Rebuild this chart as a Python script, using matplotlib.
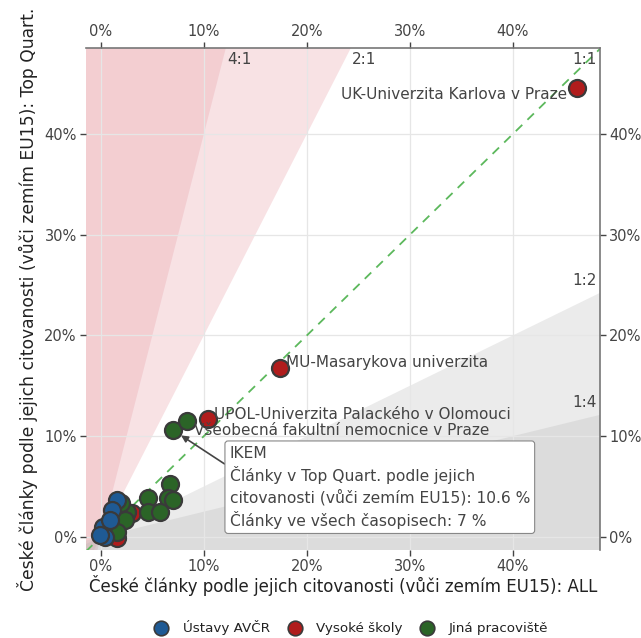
import matplotlib
matplotlib.use("Agg")
import matplotlib.pyplot as plt
import numpy as np
from matplotlib.ticker import FuncFormatter
from matplotlib.lines import Line2D

# share of Czech articles (% of EU15 comparison): ALL vs Top Quart.
avcr_all = [1.6, 1.1, 0.2, 0.4, -0.1, 0.9]
avcr_top = [3.7, 2.7, 1.0, 0.0, 0.2, 1.7]

vs_names = ["UK-Univerzita Karlova v Praze", "MU-Masarykova univerzita",
            "UPOL-Univerzita Palackého v Olomouci", "", ""]
vs_all = [46.2, 17.4, 10.4, 3.0, 1.6]
vs_top = [44.6, 16.8, 11.7, 2.4, -0.1]

jine_names = ["IKEM", "Všeobecná fakultní nemocnice v Praze"]
jine_all = [7.0, 8.4, 6.7, 4.6, 6.5, 7.0, 4.6, 5.7, 2.5, 2.3, 1.6, 2.0]
jine_top = [10.6, 11.5, 5.2, 3.9, 3.9, 3.7, 2.5, 2.5, 2.5, 1.7, 0.5, 3.4]

ticks = [0, 10, 20, 30, 40]

xmin, xmax = -1.45, 48.45
ymin, ymax = -1.3, 48.55

fig = plt.figure(figsize=(6.41, 6.38), dpi=100)
ax = fig.add_axes([0.134, 0.138, 0.802, 0.787])

xs = np.linspace(xmin, xmax, 200)
ax.fill_between(xs, 4 * xs, 200, color="#e8a0a8", alpha=0.3, lw=0, zorder=0)
ax.fill_between(xs, 2 * xs, 200, color="#e8a0a8", alpha=0.3, lw=0, zorder=0)
ax.fill_between(xs, -200, xs / 2, color="#b0b0b0", alpha=0.25, lw=0, zorder=0)
ax.fill_between(xs, -200, xs / 4, color="#b0b0b0", alpha=0.25, lw=0, zorder=0)

for t in ticks:
    ax.axvline(t, color="#e6e6e6", lw=0.9, zorder=0.5)
    ax.axhline(t, color="#e6e6e6", lw=0.9, zorder=0.5)

ax.plot(xs, xs, ls=(0, (5, 4)), color="#5cb85c", lw=1.3, zorder=1)

# ratio labels
rl = dict(fontsize=11, color="#444")
ax.text(ymax / 4 + 0.1, ymax - 0.4, "4:1", ha="left", va="top", **rl)
ax.text(ymax / 2 + 0.1, ymax - 0.4, "2:1", ha="left", va="top", **rl)
ax.text(xmax - 0.3, ymax - 0.4, "1:1", ha="right", va="top", **rl)
ax.text(xmax - 0.3, xmax / 2 + 0.5, "1:2", ha="right", va="bottom", **rl)
ax.text(xmax - 0.3, xmax / 4 + 0.5, "1:4", ha="right", va="bottom", **rl)

kw = dict(s=150, edgecolors="#3a3a3a", linewidths=1.6, zorder=3)
ax.scatter(vs_all, vs_top, color="#b01c1c", **kw)
ax.scatter(jine_all, jine_top, color="#2b6427", **kw)
ax.scatter(avcr_all, avcr_top, color="#1f5a94", **kw)

lab = dict(fontsize=11, color="#444", zorder=4)
ax.annotate(vs_names[0], (vs_all[0], vs_top[0]), xytext=(-7, -5), textcoords="offset points",
            ha="right", va="center", **lab)
ax.annotate(vs_names[1], (vs_all[1], vs_top[1]), xytext=(4, 4), textcoords="offset points",
            ha="left", va="center", **lab)
ax.annotate(vs_names[2], (vs_all[2], vs_top[2]), xytext=(4, 3), textcoords="offset points",
            ha="left", va="center", **lab)
ax.annotate(jine_names[1], (jine_all[1], jine_top[1]), xytext=(5, -7), textcoords="offset points",
            ha="left", va="center", **lab)

# hover box for IKEM
box_txt = ("IKEM\nČlánky v Top Quart. podle jejich\n"
           "citovanosti (vůči zemím EU15): 10.6 %\nČlánky ve všech časopisech: 7 %")
ax.annotate(box_txt, (jine_all[0], jine_top[0]), xytext=(12.5, 0.8), textcoords="data",
            ha="left", va="bottom", fontsize=11.2, color="#444", linespacing=1.36, zorder=5,
            bbox=dict(boxstyle="round,pad=0.3,rounding_size=0.2", fc="white", ec="#888", lw=0.8),
            arrowprops=dict(arrowstyle="-|>", color="#444", lw=1.2, shrinkA=0, shrinkB=7,
                            mutation_scale=10, relpos=(0, 0.74)))

ax.set_xlim(xmin, xmax)
ax.set_ylim(ymin, ymax)
ax.set_xticks(ticks)
ax.set_yticks(ticks)
pct = FuncFormatter(lambda v, p: f"{v:.0f}%")
ax.xaxis.set_major_formatter(pct)
ax.yaxis.set_major_formatter(pct)
ax.tick_params(top=True, labeltop=True, right=True, labelright=True, length=4,
               width=1, color="#444", labelcolor="#444", labelsize=10.5, pad=2.5)

for side in ["left", "bottom"]:
    ax.spines[side].set_visible(False)
for side in ["top", "right"]:
    ax.spines[side].set_color("#777")
    ax.spines[side].set_linewidth(1.2)

ax.set_xlabel("České články podle jejich citovanosti (vůči zemím EU15): ALL",
              fontsize=12, color="#222", labelpad=1)
ax.set_ylabel("České články podle jejich citovanosti (vůči zemím EU15): Top Quart.",
              fontsize=12.3, color="#222")
ax.yaxis.set_label_coords(-0.093, 0.5)

handles = [Line2D([], [], marker="o", ls="", ms=10.5, mfc=c, mec="#3a3a3a", mew=1.2)
           for c in ["#1f5a94", "#b01c1c", "#2b6427"]]
fig.legend(handles, ["Ústavy AVČR", "Vysoké školy", "Jiná pracoviště"], loc="center",
           bbox_to_anchor=(0.548, 0.016), ncol=3, frameon=False, fontsize=9.7,
           handlelength=1.0, handletextpad=1.06, columnspacing=1.36, labelcolor="#222")

fig.savefig("out.png", dpi=100)
